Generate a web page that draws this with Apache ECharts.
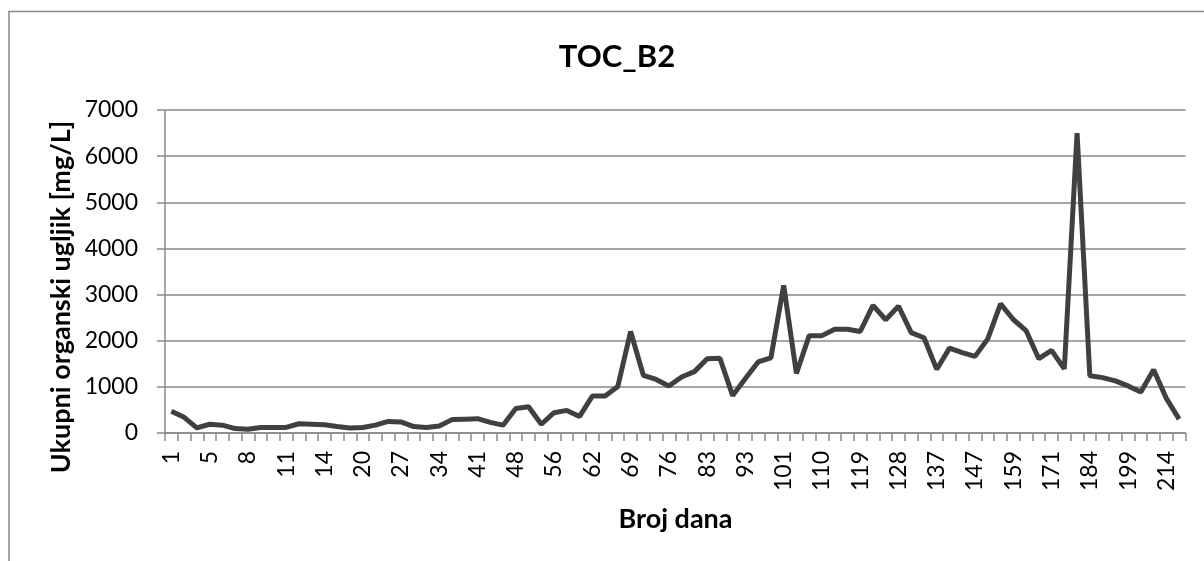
<!DOCTYPE html>
<html>
<head>
<meta charset="utf-8">
<title>TOC_B2</title>
<script src="https://cdn.jsdelivr.net/npm/echarts@6/dist/echarts.min.js"></script>
<style>
  html, body { margin: 0; padding: 0; background: #fff; }
  #main { width: 1204px; height: 561px; }
</style>
</head>
<body>
<div id="main"></div>
<script>
// broj dana (kategorije na x osi)
var days = [1, 3, 4, 5, 6, 7, 8, 9, 10, 11, 12, 13, 14, 16, 18, 20, 22, 25, 27, 29,
  32, 34, 36, 39, 41, 43, 46, 48, 51, 53, 56, 58, 60, 62, 65, 67, 69, 72, 74, 76,
  79, 81, 83, 86, 90, 93, 95, 98, 101, 104, 107, 110, 113, 116, 119, 122, 125, 128, 131, 134,
  137, 140, 144, 147, 151, 155, 159, 163, 167, 171, 175, 179, 184, 189, 194, 199, 204, 209, 214, 217]

// TOC vrijednosti [mg/L]
var toc = [470, 340, 110, 190, 170, 95, 80, 120, 120, 120, 200, 190, 180, 140, 110, 120, 170, 250, 240, 140,
  120, 150, 290, 300, 310, 230, 170, 530, 570, 190, 440, 490, 360, 800, 800, 1010, 2200, 1250, 1160, 1020,
  1215, 1330, 1610, 1620, 810, 1180, 1540, 1630, 3200, 1290, 2110, 2110, 2250, 2250, 2200, 2765, 2455, 2750, 2175, 2065,
  1380, 1840, 1740, 1660, 2040, 2800, 2460, 2220, 1610, 1790, 1390, 6500, 1240, 1200, 1130, 1020, 890, 1370, 750, 300]

var yTicks = [0, 7000, 1000] // min, max, interval

var font = 'Lato, "Open Sans", sans-serif'
var gray = '#898989'

var myChart = echarts.init(document.getElementById('main'))
myChart.setOption({
  animation: false,
  title: {
    text: 'TOC_B2',
    left: 612,
    top: 36,
    textAlign: 'center',
    textStyle: { fontFamily: font, fontWeight: 'bold', fontSize: 31, color: '#000' }
  },
  graphic: [
    {
      type: 'rect',
      shape: { x: 9, y: 11.5, width: 1400, height: 800 },
      style: { fill: 'none', stroke: gray, lineWidth: 1.5 },
      silent: true
    },
    {
      type: 'text',
      x: 61,
      y: 297,
      rotation: Math.PI / 2,
      style: {
        text: 'Ukupni organski ugljik [mg/L]',
        align: 'center',
        verticalAlign: 'middle',
        font: 'bold 27px ' + font,
        fill: '#000'
      }
    },
    {
      type: 'text',
      x: 675.5,
      y: 519,
      style: {
        text: 'Broj dana',
        align: 'center',
        verticalAlign: 'middle',
        font: 'bold 27px ' + font,
        fill: '#000'
      }
    }
  ],
  grid: {
    left: 165,
    right: 18.5,
    top: 110,
    bottom: 128
  },
  xAxis: {
    type: 'category',
    data: days,
    boundaryGap: true,
    axisLine: { lineStyle: { color: gray, width: 1.5 } },
    axisTick: { show: true, interval: 0, length: 8, lineStyle: { color: gray, width: 1.5 } },
    axisLabel: {
      interval: 2,
      rotate: 90,
      margin: 18,
      fontFamily: font,
      fontSize: 23,
      color: '#000'
    },
    splitLine: { show: false }
  },
  yAxis: {
    type: 'value',
    min: yTicks[0],
    max: yTicks[1],
    interval: yTicks[2],
    axisLine: { show: true, lineStyle: { color: gray, width: 1.5 } },
    axisTick: { show: true, length: 8, lineStyle: { color: gray, width: 1.5 } },
    axisLabel: {
      margin: 27,
      fontFamily: font,
      fontSize: 23,
      color: '#000',
      formatter: function (v) { return String(v) }
    },
    splitLine: { lineStyle: { color: gray, width: 1.5 } }
  },
  series: [
    {
      name: 'TOC_B2',
      type: 'line',
      data: toc,
      symbol: 'none',
      lineStyle: { color: '#404040', width: 5 }
    }
  ]
})
</script>
</body>
</html>
